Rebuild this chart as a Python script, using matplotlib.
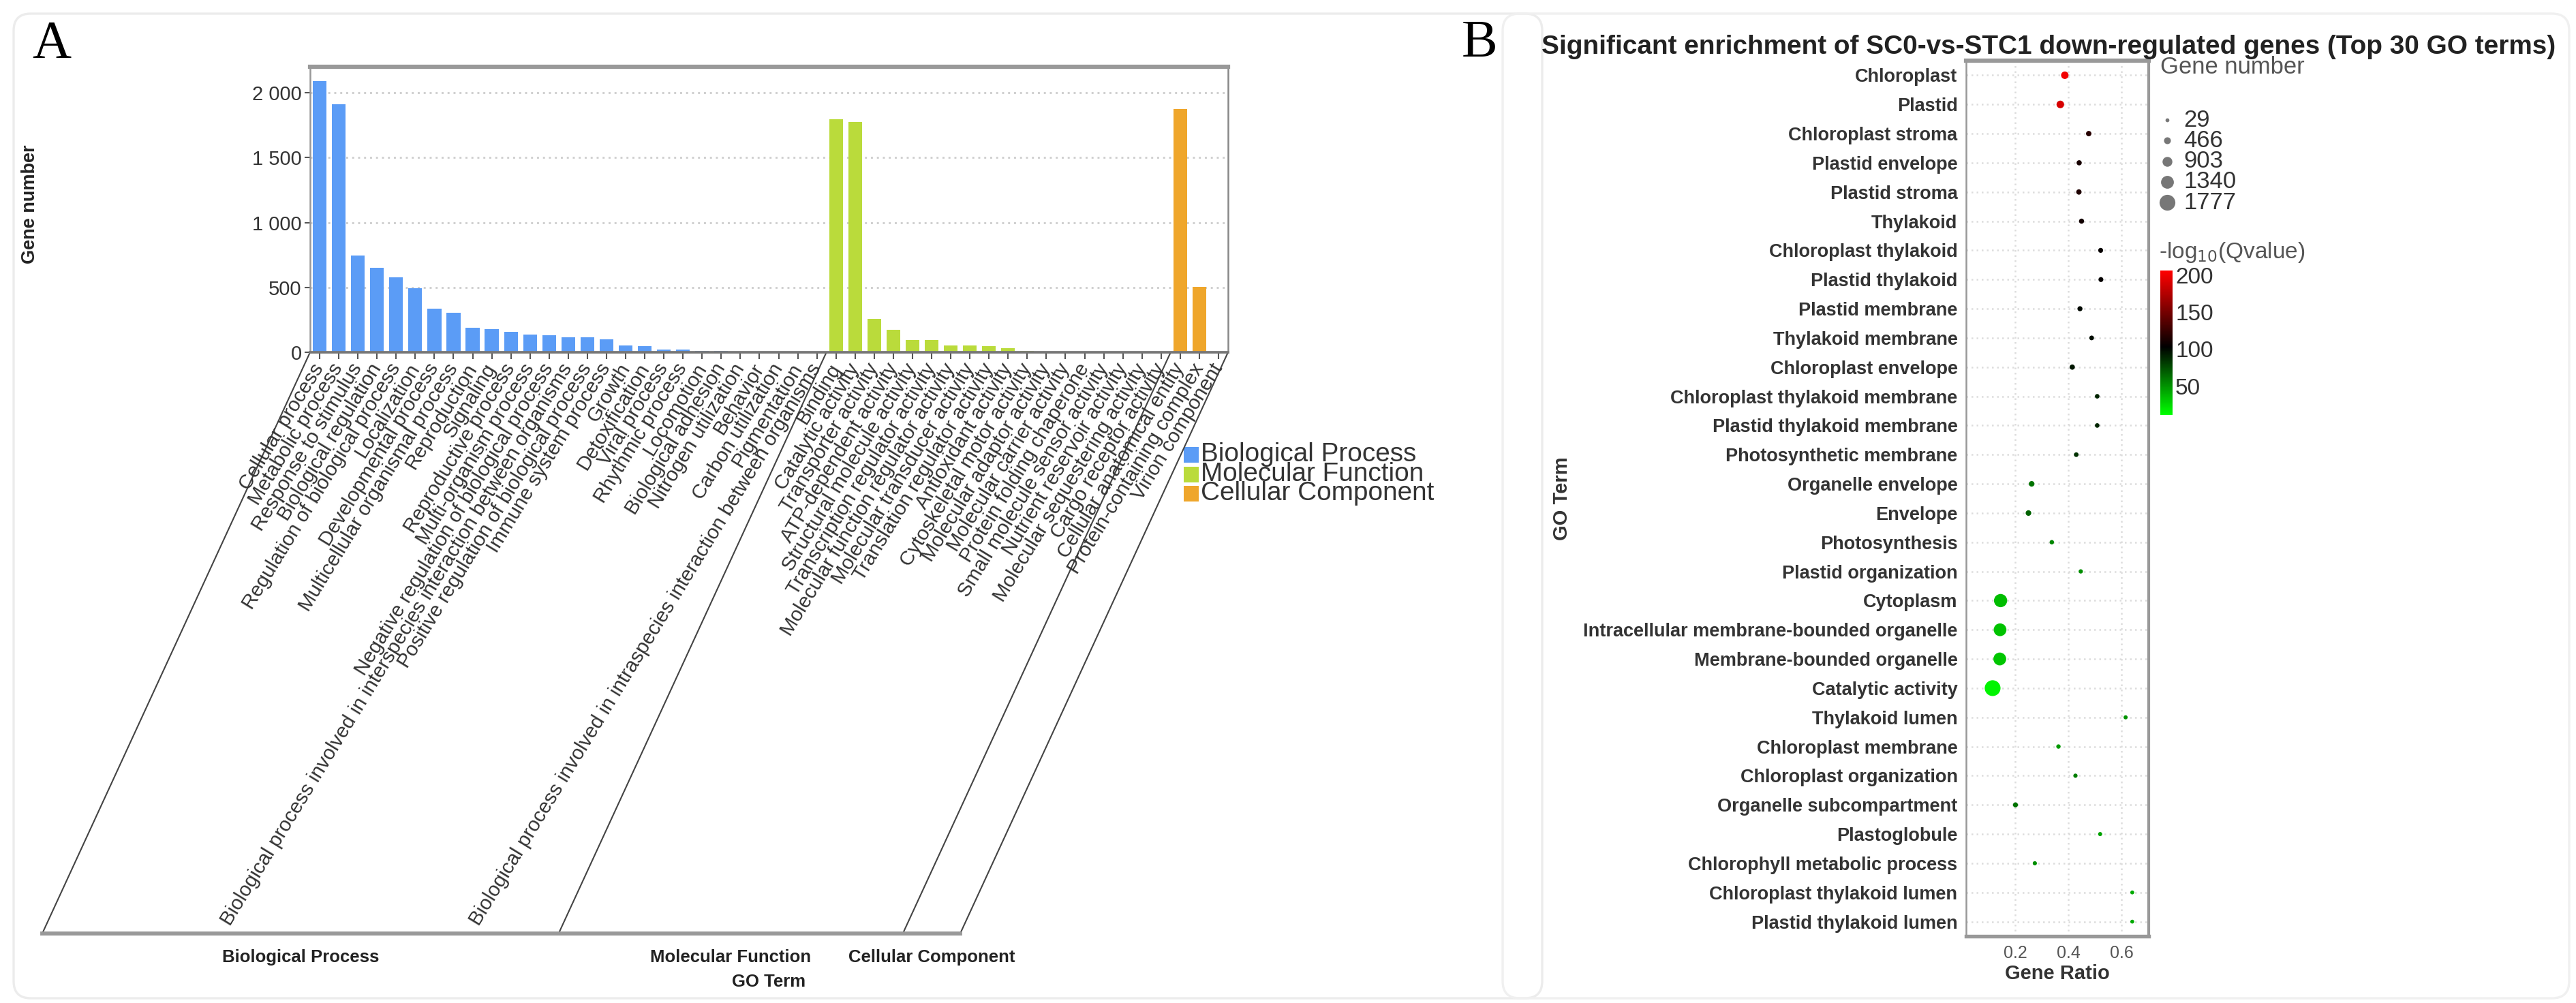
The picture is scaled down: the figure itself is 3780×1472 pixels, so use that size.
import matplotlib
matplotlib.use('Agg')
import matplotlib.pyplot as plt
import numpy as np
from matplotlib.colors import LinearSegmentedColormap, Normalize
from matplotlib.cm import ScalarMappable
from matplotlib.patches import Rectangle, FancyBboxPatch

plt.rcParams['font.family'] = ['Liberation Sans', 'DejaVu Sans']

# ---------------- Panel A data ----------------
bp_terms = ['Cellular process', 'Metabolic process', 'Response to stimulus', 'Biological regulation',
            'Regulation of biological process', 'Localization', 'Developmental process',
            'Multicellular organismal process', 'Reproduction', 'Signaling', 'Reproductive process',
            'Multi-organism process', 'Negative regulation of biological process',
            'Biological process involved in interspecies interaction between organisms',
            'Positive regulation of biological process', 'Immune system process', 'Growth',
            'Detoxification', 'Viral process', 'Rhythmic process', 'Locomotion', 'Biological adhesion',
            'Nitrogen utilization', 'Behavior', 'Carbon utilization', 'Pigmentation',
            'Biological process involved in intraspecies interaction between organisms']
bp_counts = [2090, 1910, 748, 650, 575, 495, 335, 307, 188, 176, 159, 135, 129, 116, 116, 101,
             51, 47, 22, 19, 13, 9, 5, 3, 2, 1, 1]
mf_terms = ['Binding', 'Catalytic activity', 'Transporter activity', 'ATP-dependent activity',
            'Structural molecule activity', 'Transcription regulator activity',
            'Molecular function regulator activity', 'Molecular transducer activity',
            'Translation regulator activity', 'Antioxidant activity', 'Cytoskeletal motor activity',
            'Molecular adaptor activity', 'Molecular carrier activity', 'Protein folding chaperone',
            'Small molecule sensor activity', 'Nutrient reservoir activity',
            'Molecular sequestering activity', 'Cargo receptor activity']
mf_counts = [1794, 1775, 257, 172, 97, 97, 51, 51, 47, 32, 13, 4, 2, 2, 1, 1, 1, 1]
cc_terms = ['Cellular anatomical entity', 'Protein-containing complex', 'Virion component']
cc_counts = [1874, 504, 1]
group_names = ['Biological Process', 'Molecular Function', 'Cellular Component']
group_colors = ['#5B9CF6', '#BADB3B', '#EFA62B']
yticksA = [0, 500, 1000, 1500, 2000]
ytick_labelsA = ['0', '500', '1 000', '1 500', '2 000']

# ---------------- Panel B data ----------------
go_terms = ['Chloroplast', 'Plastid', 'Chloroplast stroma', 'Plastid envelope', 'Plastid stroma',
            'Thylakoid', 'Chloroplast thylakoid', 'Plastid thylakoid', 'Plastid membrane',
            'Thylakoid membrane', 'Chloroplast envelope', 'Chloroplast thylakoid membrane',
            'Plastid thylakoid membrane', 'Photosynthetic membrane', 'Organelle envelope', 'Envelope',
            'Photosynthesis', 'Plastid organization', 'Cytoplasm',
            'Intracellular membrane-bounded organelle', 'Membrane-bounded organelle',
            'Catalytic activity', 'Thylakoid lumen', 'Chloroplast membrane',
            'Chloroplast organization', 'Organelle subcompartment', 'Plastoglobule',
            'Chlorophyll metabolic process', 'Chloroplast thylakoid lumen', 'Plastid thylakoid lumen']
gene_ratio = [0.387, 0.370, 0.477, 0.441, 0.440, 0.450, 0.522, 0.523, 0.444, 0.488, 0.415, 0.509,
              0.509, 0.430, 0.262, 0.250, 0.338, 0.447, 0.145, 0.143, 0.142, 0.115, 0.616, 0.363,
              0.427, 0.201, 0.520, 0.274, 0.641, 0.641]
gene_number = [560, 570, 250, 220, 245, 210, 180, 180, 200, 150, 230, 130, 130, 140, 280, 280,
               110, 90, 1400, 1330, 1340, 1777, 60, 100, 80, 190, 60, 70, 30, 29]
neglog_q = [200, 190, 118, 112, 115, 110, 105, 104, 100, 98, 95, 90, 89, 85, 62, 68, 55, 52,
            35, 33, 32, 15, 50, 48, 58, 62, 45, 52, 42, 42]
size_breaks = [29, 466, 903, 1340, 1777]
cbar_ticks = [50, 100, 150, 200]
xticksB = [0.2, 0.4, 0.6]

W, H, DPI = 3780, 1472, 300
fig = plt.figure(figsize=(W / DPI, H / DPI), dpi=DPI)


def fx(px):
    return px / W


def fy(py):
    return 1 - py / H


def size_fn(v):
    return (1.3 + 0.0024 * np.asarray(v, dtype=float)) ** 2


# overlay axes in pixel coordinates (y downwards)
ov = fig.add_axes([0, 0, 1, 1], zorder=-1)
ov.set_xlim(0, W)
ov.set_ylim(H, 0)
ov.axis('off')

# faint panel frames
ov.add_patch(FancyBboxPatch((20, 20), 2243, 1445, boxstyle='round,pad=0,rounding_size=25',
                            fc='none', ec='#ececec', lw=0.8))
ov.add_patch(FancyBboxPatch((2205, 20), 1565, 1445, boxstyle='round,pad=0,rounding_size=25',
                            fc='none', ec='#f0f0f0', lw=0.8))

# ---------------- Panel A ----------------
axA = fig.add_axes([fx(455), fy(517), fx(1802) - fx(455), fy(98) - fy(517)])
terms = bp_terms + mf_terms + cc_terms
counts = bp_counts + mf_counts + cc_counts
colors = ([group_colors[0]] * len(bp_terms) + [group_colors[1]] * len(mf_terms)
          + [group_colors[2]] * len(cc_terms))
x = np.arange(len(terms))
axA.bar(x, counts, width=0.72, color=colors, zorder=2)
axA.set_xlim(-0.5, len(terms) - 0.5)
axA.set_ylim(0, 2200)
axA.set_yticks(yticksA)
axA.set_yticklabels(ytick_labelsA)
axA.yaxis.grid(True, linestyle=(0, (1, 2)), color='#cfcfcf', lw=0.7)
axA.set_axisbelow(True)
axA.set_xticks(x)
axA.set_xticklabels(terms, rotation=58.5, ha='right', va='center', rotation_mode='anchor',
                    fontsize=7.1, color='#333333')
axA.tick_params(axis='x', length=2.5, width=0.5, color='#555555', pad=2)
axA.tick_params(axis='y', length=2, width=0.5, color='#555555', labelsize=7,
                labelcolor='#333333', pad=1)
axA.spines['top'].set_color('#999999')
axA.spines['top'].set_linewidth(1.5)
axA.spines['right'].set_color('#888888')
axA.spines['right'].set_linewidth(0.6)
axA.spines['left'].set_color('#999999')
axA.spines['left'].set_linewidth(0.6)
axA.spines['bottom'].set_color('#777777')
axA.spines['bottom'].set_linewidth(0.9)

# group bracket lines
nb, nm = len(bp_terms), len(mf_terms)
bounds = [-0.5, nb - 0.5, nb + nm - 0.5, len(terms) - 0.5]
shift, ybot = 393, 1370
tops = []
for b in bounds:
    d = axA.transData.transform((b, 0))
    tops.append((d[0], H - d[1]))
for (px, py) in tops:
    ov.plot([px, px - shift], [py, ybot], color='#444444', lw=0.5)
ov.plot([tops[0][0] - shift, tops[-1][0] - shift], [ybot, ybot], color='#999999', lw=1.4)
for i, name in enumerate(group_names):
    cx = (tops[i][0] + tops[i + 1][0]) / 2 - shift
    ov.text(cx, 1405, name, ha='center', va='center', fontsize=6.2, fontweight='bold', color='#222222')
axc = axA.transAxes.transform((0.5, 0))[0]
ov.text(axc, 1441, 'GO Term', ha='center', va='center', fontsize=6.2, fontweight='bold', color='#222222')
ov.text(44, 300, 'Gene number', ha='center', va='center', rotation=90, fontsize=6.5,
        fontweight='bold', color='#222222')

# legend A
for i, (name, col) in enumerate(zip(group_names, group_colors)):
    y0 = 656 + i * 28.5
    ov.add_patch(Rectangle((1737, y0), 22, 23, color=col, lw=0))
    ov.text(1762, y0 + 11, name, ha='left', va='center', fontsize=9.3, color='#333333')

ov.text(76, 65, 'A', family='Liberation Serif', fontsize=19, ha='center', va='center')
ov.text(2171, 64, 'B', family='Liberation Serif', fontsize=19, ha='center', va='center')

# ---------------- Panel B ----------------
cmap = LinearSegmentedColormap.from_list('gbr', [(0, '#00FF00'), (0.47, '#000000'), (1, '#FF0000')])
norm = Normalize(vmin=11, vmax=206)
axB = fig.add_axes([fx(2885), fy(1374), fx(3153) - fx(2885), fy(89) - fy(1374)])
yB = np.arange(len(go_terms))
axB.scatter(gene_ratio, yB, s=size_fn(gene_number), c=neglog_q, cmap=cmap, norm=norm,
            linewidths=0, zorder=3)
axB.set_ylim(len(go_terms) - 0.5, -0.5)
axB.set_xlim(0.015, 0.703)
axB.set_yticks(yB)
axB.set_yticklabels(go_terms, fontsize=6.5, fontweight='bold', color='#333333')
axB.set_xticks(xticksB)
axB.set_xticklabels([f'{t:.1f}' for t in xticksB], fontsize=6, color='#555555')
axB.tick_params(axis='both', length=0, pad=3)
axB.grid(True, linestyle=(0, (1, 2)), color='#dddddd', lw=0.6)
axB.set_axisbelow(True)
axB.set_xlabel('Gene Ratio', fontsize=7, fontweight='bold', color='#333333', labelpad=1)
axB.set_ylabel('GO Term', fontsize=7, fontweight='bold', color='#333333', labelpad=4)
for sp, lw in [('top', 1.5), ('bottom', 1.3), ('left', 0.6), ('right', 1.0)]:
    axB.spines[sp].set_color('#999999')
    axB.spines[sp].set_linewidth(lw)

fig.text(fx(3006), fy(69), 'Significant enrichment of SC0-vs-STC1 down-regulated genes (Top 30 GO terms)',
         ha='center', va='center', fontsize=9.3, fontweight='bold', color='#222222')

# size legend
ov.text(3170, 98, 'Gene number', ha='left', va='center', fontsize=8.3, color='#555555')
for i, v in enumerate(size_breaks):
    yy = 176 + i * 30.3
    ov.scatter([3180], [yy], s=size_fn([v]), color='#777777', linewidths=0)
    ov.text(3204, yy, str(v), ha='left', va='center', fontsize=8.3, color='#333333')

# colorbar
ov.text(3168, 370, r'-log$_{10}$(Qvalue)', ha='left', va='center', fontsize=8, color='#555555')
cax = fig.add_axes([fx(3170), fy(609), fx(3188) - fx(3170), fy(397) - fy(609)])
cb = fig.colorbar(ScalarMappable(norm=norm, cmap=cmap), cax=cax)
cb.set_ticks(cbar_ticks)
cb.outline.set_visible(False)
cax.tick_params(length=0, labelsize=8, pad=1, labelcolor='#333333')

fig.savefig('out.png', dpi=DPI, facecolor='white')
